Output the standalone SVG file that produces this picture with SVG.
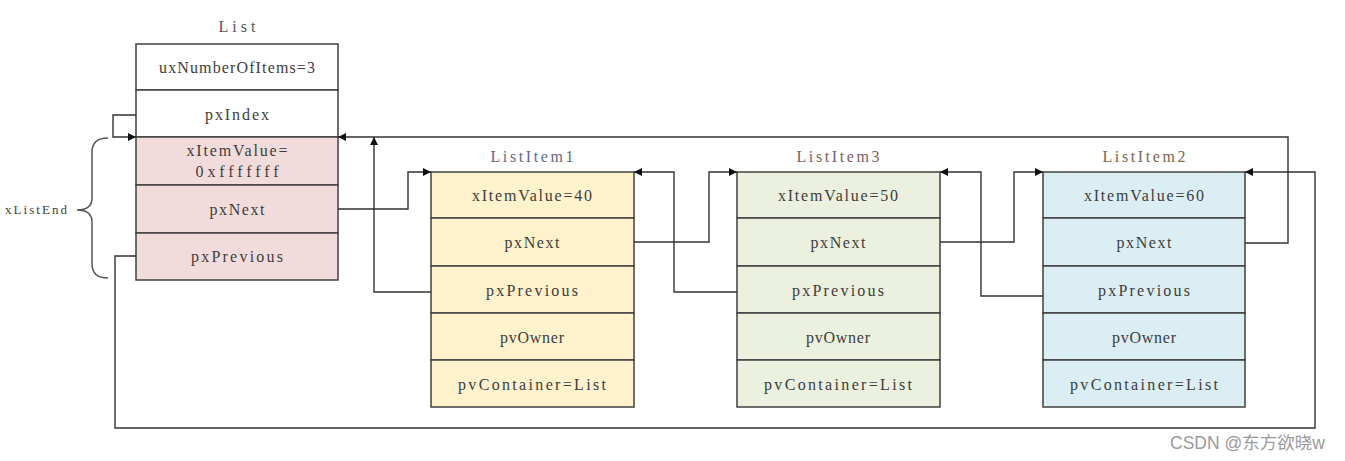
<svg xmlns="http://www.w3.org/2000/svg" width="1345" height="461" viewBox="0 0 1345 461">
<defs>
<style>
.bx{stroke:#404040;stroke-width:1.5}
.t{font-family:"Liberation Serif",serif;font-size:16px;fill:#3d3d3d;text-anchor:middle}
.ttl{font-family:"Liberation Serif",serif;font-size:16px;text-anchor:middle}
.c{fill:none;stroke:#333;stroke-width:1.4;marker-end:url(#ah)}
</style>
<marker id="ah" viewBox="0 0 10 10" refX="10" refY="5" markerWidth="9" markerHeight="8" markerUnits="userSpaceOnUse" orient="auto">
<path d="M0,0 L10,5 L0,10 z" fill="#111"/>
</marker>
</defs>
<rect width="1345" height="461" fill="#fff"/>

<g id="list">
<text class="ttl" x="237" y="32" fill="#555" textLength="37" lengthAdjust="spacing">List</text>
<rect class="bx" x="136" y="44" width="202" height="46" fill="#fff"/>
<rect class="bx" x="136" y="90" width="202" height="47" fill="#fff"/>
<rect class="bx" x="136" y="137" width="202" height="48" fill="#f2dcdb"/>
<rect class="bx" x="136" y="185" width="202" height="48" fill="#f2dcdb"/>
<rect class="bx" x="136" y="233" width="202" height="47" fill="#f2dcdb"/>
<text class="t" x="237" y="73" textLength="156" lengthAdjust="spacing">uxNumberOfItems=3</text>
<text class="t" x="237" y="120" textLength="64" lengthAdjust="spacing">pxIndex</text>
<text class="t" x="237" y="156" textLength="101" lengthAdjust="spacing">xItemValue=</text>
<text class="t" x="237" y="177" textLength="83" lengthAdjust="spacing">0xfffffff</text>
<text class="t" x="237" y="215" textLength="55" lengthAdjust="spacing">pxNext</text>
<text class="t" x="237" y="262" textLength="92" lengthAdjust="spacing">pxPrevious</text>
</g>

<g id="xListEnd">
<path d="M108,138 Q92,138 92,152 V198 Q92,210 77,210 Q92,210 92,222 V264 Q92,278 108,278" fill="none" stroke="#555" stroke-width="1.5"/>
<text x="5" y="214" font-family="Liberation Serif,serif" font-size="13px" fill="#3d3d3d" textLength="62" lengthAdjust="spacing">xListEnd</text>
</g>

<g id="listitem1">
<text class="ttl" x="532" y="162" fill="#5e6a85" textLength="83" lengthAdjust="spacing">ListItem1</text>
<rect class="bx" x="431" y="172" width="203" height="46" fill="#fff2cc"/>
<rect class="bx" x="431" y="218" width="203" height="48" fill="#fff2cc"/>
<rect class="bx" x="431" y="266" width="203" height="47" fill="#fff2cc"/>
<rect class="bx" x="431" y="313" width="203" height="47" fill="#fff2cc"/>
<rect class="bx" x="431" y="360" width="203" height="47" fill="#fff2cc"/>
<text class="t" x="532" y="201" textLength="120" lengthAdjust="spacing">xItemValue=40</text>
<text class="t" x="532" y="248" textLength="55" lengthAdjust="spacing">pxNext</text>
<text class="t" x="532" y="296" textLength="92" lengthAdjust="spacing">pxPrevious</text>
<text class="t" x="532" y="343" textLength="64" lengthAdjust="spacing">pvOwner</text>
<text class="t" x="532" y="390" textLength="148" lengthAdjust="spacing">pvContainer=List</text>
</g>

<g id="listitem3">
<text class="ttl" x="838" y="162" fill="#7a6262" textLength="83" lengthAdjust="spacing">ListItem3</text>
<rect class="bx" x="737" y="172" width="203" height="46" fill="#ebf1de"/>
<rect class="bx" x="737" y="218" width="203" height="48" fill="#ebf1de"/>
<rect class="bx" x="737" y="266" width="203" height="47" fill="#ebf1de"/>
<rect class="bx" x="737" y="313" width="203" height="47" fill="#ebf1de"/>
<rect class="bx" x="737" y="360" width="203" height="47" fill="#ebf1de"/>
<text class="t" x="838" y="201" textLength="120" lengthAdjust="spacing">xItemValue=50</text>
<text class="t" x="838" y="248" textLength="55" lengthAdjust="spacing">pxNext</text>
<text class="t" x="838" y="296" textLength="92" lengthAdjust="spacing">pxPrevious</text>
<text class="t" x="838" y="343" textLength="64" lengthAdjust="spacing">pvOwner</text>
<text class="t" x="838" y="390" textLength="148" lengthAdjust="spacing">pvContainer=List</text>
</g>

<g id="listitem2">
<text class="ttl" x="1144" y="162" fill="#7d6550" textLength="83" lengthAdjust="spacing">ListItem2</text>
<rect class="bx" x="1043" y="172" width="202" height="46" fill="#dbeef4"/>
<rect class="bx" x="1043" y="218" width="202" height="48" fill="#dbeef4"/>
<rect class="bx" x="1043" y="266" width="202" height="47" fill="#dbeef4"/>
<rect class="bx" x="1043" y="313" width="202" height="47" fill="#dbeef4"/>
<rect class="bx" x="1043" y="360" width="202" height="47" fill="#dbeef4"/>
<text class="t" x="1144" y="201" textLength="120" lengthAdjust="spacing">xItemValue=60</text>
<text class="t" x="1144" y="248" textLength="55" lengthAdjust="spacing">pxNext</text>
<text class="t" x="1144" y="296" textLength="92" lengthAdjust="spacing">pxPrevious</text>
<text class="t" x="1144" y="343" textLength="64" lengthAdjust="spacing">pvOwner</text>
<text class="t" x="1144" y="390" textLength="148" lengthAdjust="spacing">pvContainer=List</text>
</g>

<g id="connectors">
<path class="c" d="M136,115 H113 V137 H136"/>
<path class="c" d="M1245,243 H1288 V137 H338"/>
<path class="c" d="M338,209 H408 V172 H431"/>
<path class="c" d="M431,292 H374 V137"/>
<path class="c" d="M634,242 H709 V172 H737"/>
<path class="c" d="M737,292 H674 V172 H634"/>
<path class="c" d="M940,242 H1014 V172 H1043"/>
<path class="c" d="M1043,296 H981 V172 H940"/>
<path class="c" d="M136,256 H115 V428 H1315 V172 H1245"/>
</g>

<text x="1170" y="449" font-family="Liberation Sans,Noto Sans CJK SC,sans-serif" font-size="17.5px" fill="#9a9a9a">CSDN @东方欲晓w</text>
</svg>
